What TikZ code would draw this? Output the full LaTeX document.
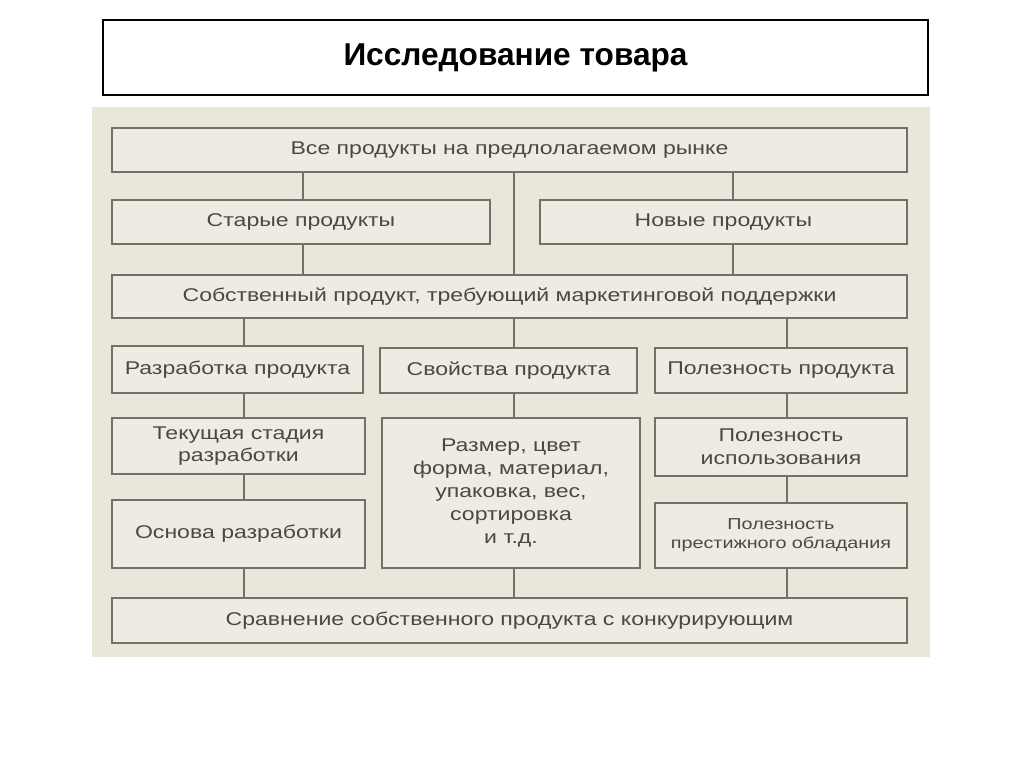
\documentclass[tikz,border=0pt]{standalone}
\usepackage{fontspec}
\usepackage{xcolor}
\usepackage{tikz}
\setmainfont{Liberation Sans}
\newfontfamily\scanfont[FakeStretch=1.25]{Liberation Sans}
\definecolor{paper}{HTML}{E9E7DA}
\definecolor{boxbg}{HTML}{EEECE2}
\definecolor{inkline}{HTML}{72706A}
\definecolor{inktext}{HTML}{4A4845}
\tikzset{blk/.style={draw=inkline,line width=0.9pt,fill=boxbg,align=center,inner sep=2pt,
  text=inktext,font=\scanfont\fontsize{10.5}{13}\selectfont},
  wire/.style={draw=inkline,line width=0.9pt}}

\begin{document}
\begin{tikzpicture}[x=0.02cm,y=-0.02cm]
\useasboundingbox (0,0) rectangle (1024,768);
% title
\node[draw=black,line width=0.8pt,fill=white,minimum width=16.5cm,minimum height=1.5cm,
  font=\bfseries\fontsize{18}{22}\selectfont] (title) at (515.5,57.5) {Исследование товара};
% scanned scheme
\fill[paper] (92,107) rectangle (930,657);
\node[blk,minimum width=15.9cm,minimum height=0.88cm] (all) at (509.5,150) {Все продукты на предлолагаемом рынке};
\node[blk,minimum width=7.56cm,minimum height=0.88cm] (old) at (301,222) {Старые продукты};
\node[blk,minimum width=7.34cm,minimum height=0.88cm] (new) at (723.5,222) {Новые продукты};
\node[blk,minimum width=15.9cm,minimum height=0.86cm] (own) at (509.5,296.5) {Собственный продукт, требующий маркетинговой поддержки};
\node[blk,minimum width=5.02cm,minimum height=0.94cm] (dev) at (237.5,369.5) {Разработка продукта};
\node[blk,minimum width=5.14cm,minimum height=0.9cm] (prop) at (508.5,370.5) {Свойства продукта};
\node[blk,minimum width=5.04cm,minimum height=0.9cm] (use) at (781,370.5) {Полезность продукта};
\node[blk,minimum width=5.06cm,minimum height=1.12cm] (stage) at (238.5,446) {Текущая стадия\\разработки};
\node[blk,minimum width=5.16cm,minimum height=3.0cm] (size) at (511,493) {Размер, цвет\\форма, материал,\\упаковка, вес,\\сортировка\\и т.д.};
\node[blk,minimum width=5.04cm,minimum height=1.16cm] (usage) at (781,447) {Полезность\\использования};
\node[blk,minimum width=5.06cm,minimum height=1.36cm] (base) at (238.5,534) {Основа разработки};
\node[blk,minimum width=5.04cm,minimum height=1.3cm,font=\scanfont\fontsize{9}{11}\selectfont] (prest) at (781,535.5) {Полезность\\престижного обладания};
\node[blk,minimum width=15.9cm,minimum height=0.9cm] (cmp) at (509.5,620.5) {Сравнение собственного продукта с конкурирующим};
% connectors
\draw[wire] (all.south -| 303,0) -- (old.north -| 303,0);
\draw[wire] (all.south -| 733,0) -- (new.north -| 733,0);
\draw[wire] (all.south -| 514,0) -- (own.north -| 514,0);
\draw[wire] (old.south -| 303,0) -- (own.north -| 303,0);
\draw[wire] (new.south -| 733,0) -- (own.north -| 733,0);
\draw[wire] (own.south -| 244,0) -- (dev.north -| 244,0);
\draw[wire] (own.south -| 514,0) -- (prop.north -| 514,0);
\draw[wire] (own.south -| 787,0) -- (use.north -| 787,0);
\draw[wire] (dev.south -| 244,0) -- (stage.north -| 244,0);
\draw[wire] (stage.south -| 244,0) -- (base.north -| 244,0);
\draw[wire] (base.south -| 244,0) -- (cmp.north -| 244,0);
\draw[wire] (prop.south -| 514,0) -- (size.north -| 514,0);
\draw[wire] (size.south -| 514,0) -- (cmp.north -| 514,0);
\draw[wire] (use.south -| 787,0) -- (usage.north -| 787,0);
\draw[wire] (usage.south -| 787,0) -- (prest.north -| 787,0);
\draw[wire] (prest.south -| 787,0) -- (cmp.north -| 787,0);
\end{tikzpicture}
\end{document}
